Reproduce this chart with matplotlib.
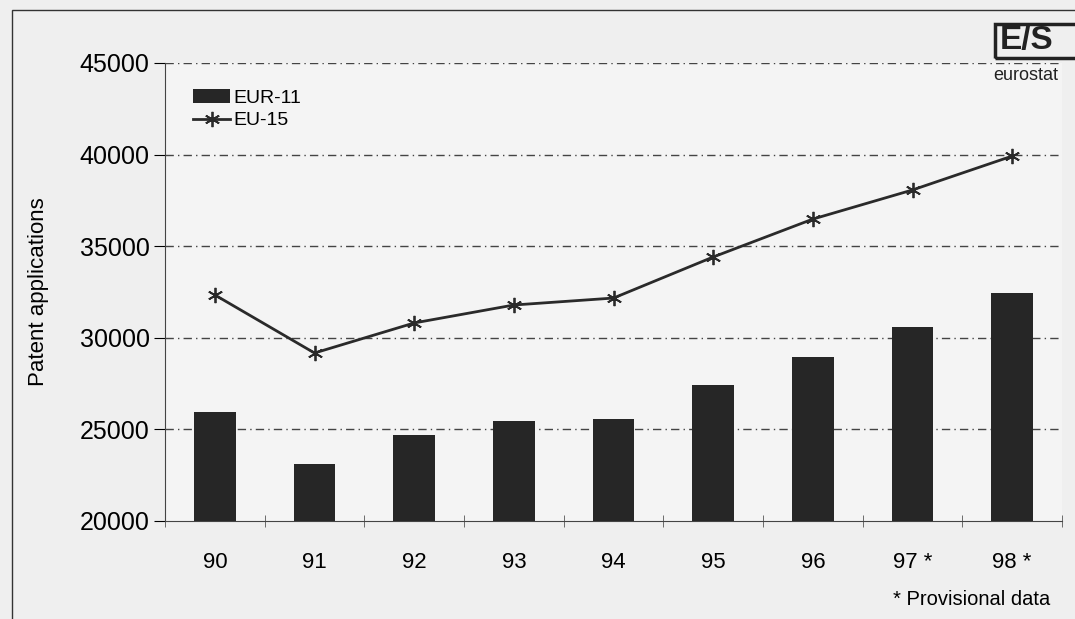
import matplotlib.pyplot as plt
import numpy as np
from matplotlib.patches import Rectangle

years = ['90', '91', '92', '93', '94', '95', '96', '97 *', '98 *']
eur11 = [25950, 23100, 24700, 25460, 25570, 27420, 28950, 30590, 32450]
eu15 = [32340, 29170, 30810, 31790, 32170, 34410, 36480, 38070, 39920]

plt.rcParams['font.family'] = ['Liberation Sans', 'DejaVu Sans']

fig = plt.figure(figsize=(10.75, 6.19), dpi=100, facecolor='#efefef')
# outer frame of the scanned figure
fig.add_artist(Rectangle((12/1075, -0.05), 1.1, 1 - 10/619 + 0.05, transform=fig.transFigure,
                         fill=False, ec='#333333', lw=1.0))

ax = fig.add_axes([165/1075, 1 - 521/619, 897/1075, 458/619])
ax.set_facecolor('#f4f4f4')

x = np.arange(len(years))
bars = ax.bar(x, np.array(eur11) - 20000, bottom=20000, width=0.42, color='#262626',
              label='EUR-11', zorder=3)
line, = ax.plot(x, eu15, color='#2a2a2a', lw=2, marker=(6, 2, 0), ms=11, mew=1.3,
                label='EU-15', zorder=4)

ax.set_xlim(-0.5, 8.5)
ax.set_ylim(20000, 45000)
ax.set_yticks(range(20000, 45001, 5000))
for v in range(25000, 45001, 5000):
    ax.axhline(v, color='#444444', lw=1.0, ls=(0, (6, 3, 1, 3)), zorder=1)

ax.set_xticks(x)
ax.set_xticklabels(years)
ax.set_xticks(np.arange(-0.5, 9, 1), minor=True)
ax.tick_params(axis='x', which='major', length=0, pad=22, labelsize=16)
ax.tick_params(axis='x', which='minor', length=8, direction='inout', color='#555555')
ax.tick_params(axis='y', length=8, direction='out', labelsize=18, pad=3)

for s in ['top', 'right']:
    ax.spines[s].set_visible(False)
ax.spines['left'].set_color('#444444')
ax.spines['bottom'].set_color('#444444')

ax.set_ylabel('Patent applications', fontsize=16, labelpad=22)

ax.legend([bars, line], ['EUR-11', 'EU-15'], loc='upper left', bbox_to_anchor=(0.01, 0.985),
          frameon=False, fontsize=14, handlelength=1.9, handletextpad=0.15,
          labelspacing=0.25, borderaxespad=0.6)

fig.text(1050/1075, 1 - 609/619, '* Provisional data', fontsize=14.5, ha='right', va='bottom')

# eurostat logo
fig.add_artist(Rectangle((995/1075, 1 - 58/619), 90/1075, 34/619, transform=fig.transFigure,
                         fill=False, ec='#222222', lw=2.5))
fig.text(1000/1075, 1 - 41/619, 'E/S', fontsize=24, fontweight='bold', ha='left', va='center',
         color='#222222')
fig.text(993/1075, 1 - 75/619, 'eurostat', fontsize=13, ha='left', va='center', color='#222222')

fig.savefig('out.png', dpi=100, facecolor=fig.get_facecolor())
